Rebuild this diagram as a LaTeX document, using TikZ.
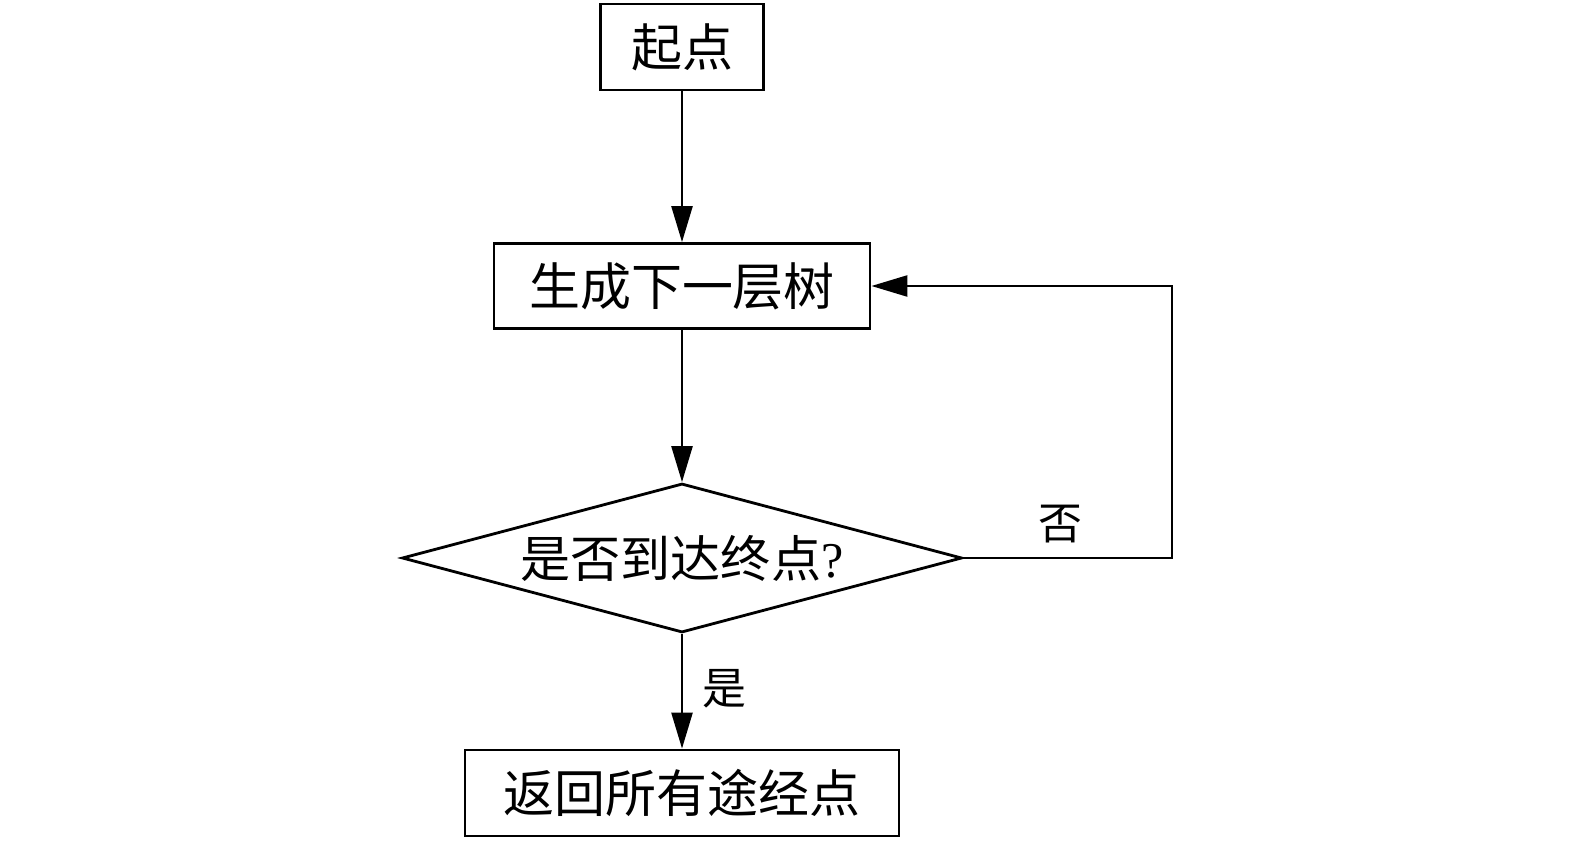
\documentclass[tikz,border=0pt]{standalone}
\usepackage{fontspec}
\setmainfont{Liberation Serif}
\newfontfamily\cjk{Noto Sans CJK SC}
\usetikzlibrary{shapes,arrows.meta,positioning}
\tikzset{
    stepbox/.style={draw, line width=1.6pt, inner sep=0pt, font=\cjk\fontsize{29}{34}\selectfont},
    decision/.style={draw, diamond, aspect=3.7, line width=1.6pt, inner sep=0pt, minimum width=11.2cm, minimum height=2.98cm, font=\cjk\fontsize{28.5}{34}\selectfont},
    arr/.style={line width=1.4pt, -{Triangle[length=0.72cm, width=0.42cm]}},
    lbl/.style={font=\cjk\fontsize{25}{30}\selectfont}
}

\begin{document}
\begin{tikzpicture}
    \useasboundingbox (0,0) rectangle (31.5,-16.84);
    \node[stepbox, minimum width=3.26cm, minimum height=1.72cm] (start) at (13.64,-0.94) {起点};
    \node[stepbox, minimum width=7.52cm, minimum height=1.70cm] (gen) at (13.64,-5.72) {生成下一层树};
    \node[decision] (dec) at (13.64,-11.16) {是否到达终点\textrm{?}};
    \node[stepbox, minimum width=8.68cm, minimum height=1.72cm] (ret) at (13.64,-15.86) {返回所有途经点};
    \coordinate (turn) at (23.44,-11.16);

    \draw[arr] (start) -- (gen);
    \draw[arr] (gen) -- (dec);
    \draw[arr] (dec) -- (ret);
    \draw[arr] (dec.east) -- (turn) |- (gen.east);

    \node[lbl] (no) at (21.2,-10.48) {否};
    \node[lbl] (yes) at (14.48,-13.78) {是};
\end{tikzpicture}
\end{document}
